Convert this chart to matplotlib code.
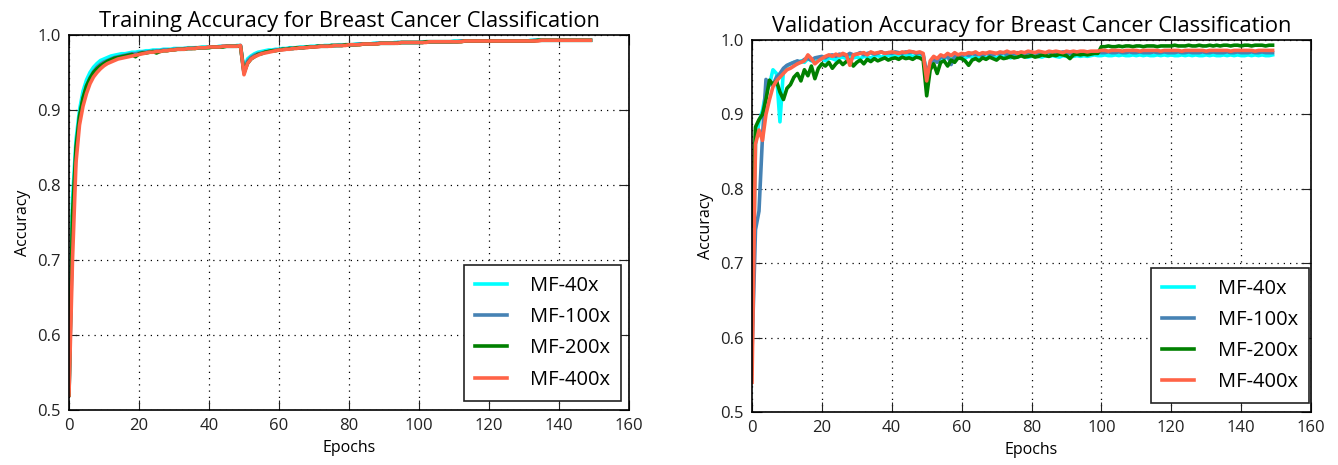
import matplotlib
matplotlib.use("Agg")
import matplotlib.pyplot as plt

epochs = list(range(150))
labels = ["MF-40x", "MF-100x", "MF-200x", "MF-400x"]
colors = ["#00FFFF", "#4682B4", "#008000", "#FF6347"]

x_ticks = [0, 20, 40, 60, 80, 100, 120, 140, 160]
y_ticks = [0.5, 0.6, 0.7, 0.8, 0.9, 1.0]

train_40x = [
    0.53, 0.78, 0.86, 0.900, 0.925, 0.940, 0.950, 0.957, 0.962, 0.966,
    0.968, 0.970, 0.972, 0.973, 0.974, 0.975, 0.975, 0.976, 0.977, 0.977,
    0.978, 0.978, 0.979, 0.979, 0.980, 0.980, 0.980, 0.981, 0.981, 0.981,
    0.982, 0.982, 0.982, 0.982, 0.983, 0.983, 0.983, 0.983, 0.984, 0.984,
    0.984, 0.984, 0.984, 0.985, 0.985, 0.985, 0.985, 0.985, 0.986, 0.986,
    0.952, 0.968, 0.972, 0.975, 0.977, 0.978, 0.979, 0.980, 0.980, 0.981,
    0.981, 0.982, 0.982, 0.983, 0.983, 0.983, 0.984, 0.984, 0.984, 0.985,
    0.985, 0.985, 0.985, 0.986, 0.986, 0.986, 0.986, 0.987, 0.987, 0.987,
    0.987, 0.987, 0.988, 0.988, 0.988, 0.988, 0.988, 0.989, 0.989, 0.989,
    0.989, 0.989, 0.989, 0.990, 0.990, 0.990, 0.990, 0.990, 0.990, 0.990,
    0.990, 0.991, 0.991, 0.991, 0.991, 0.991, 0.991, 0.991, 0.991, 0.991,
    0.992, 0.992, 0.992, 0.992, 0.992, 0.992, 0.992, 0.992, 0.992, 0.992,
    0.992, 0.992, 0.992, 0.992, 0.992, 0.992, 0.992, 0.992, 0.992, 0.992,
    0.992, 0.992, 0.993, 0.993, 0.993, 0.993, 0.993, 0.993, 0.993, 0.993,
    0.993, 0.993, 0.993, 0.993, 0.993, 0.993, 0.993, 0.993, 0.993, 0.993,
]
train_100x = [
    0.52, 0.74, 0.845, 0.890, 0.915, 0.932, 0.943, 0.951, 0.957, 0.961,
    0.964, 0.966, 0.968, 0.970, 0.971, 0.972, 0.973, 0.974, 0.975, 0.975,
    0.976, 0.977, 0.977, 0.978, 0.978, 0.979, 0.979, 0.980, 0.980, 0.980,
    0.981, 0.981, 0.981, 0.982, 0.982, 0.982, 0.983, 0.983, 0.983, 0.983,
    0.984, 0.984, 0.984, 0.984, 0.985, 0.985, 0.985, 0.985, 0.985, 0.986,
    0.949, 0.965, 0.970, 0.973, 0.975, 0.976, 0.977, 0.978, 0.979, 0.980,
    0.980, 0.981, 0.981, 0.982, 0.982, 0.983, 0.983, 0.983, 0.984, 0.984,
    0.984, 0.985, 0.985, 0.985, 0.985, 0.986, 0.986, 0.986, 0.986, 0.987,
    0.987, 0.987, 0.987, 0.988, 0.988, 0.988, 0.988, 0.988, 0.989, 0.989,
    0.989, 0.989, 0.989, 0.989, 0.990, 0.990, 0.990, 0.990, 0.990, 0.990,
    0.990, 0.990, 0.991, 0.991, 0.991, 0.991, 0.991, 0.991, 0.991, 0.991,
    0.991, 0.991, 0.992, 0.992, 0.992, 0.992, 0.992, 0.992, 0.992, 0.992,
    0.992, 0.992, 0.992, 0.992, 0.992, 0.992, 0.992, 0.992, 0.992, 0.992,
    0.992, 0.992, 0.992, 0.993, 0.993, 0.993, 0.993, 0.993, 0.993, 0.993,
    0.993, 0.993, 0.993, 0.993, 0.993, 0.993, 0.993, 0.993, 0.993, 0.993,
]
train_200x = [
    0.52, 0.76, 0.850, 0.892, 0.916, 0.932, 0.942, 0.950, 0.955, 0.959,
    0.962, 0.965, 0.967, 0.969, 0.970, 0.971, 0.972, 0.973, 0.974, 0.971,
    0.975, 0.976, 0.976, 0.977, 0.978, 0.976, 0.978, 0.979, 0.979, 0.980,
    0.980, 0.981, 0.981, 0.981, 0.982, 0.982, 0.982, 0.983, 0.983, 0.983,
    0.983, 0.984, 0.984, 0.984, 0.984, 0.985, 0.985, 0.985, 0.985, 0.985,
    0.950, 0.962, 0.968, 0.971, 0.974, 0.975, 0.977, 0.978, 0.979, 0.979,
    0.980, 0.981, 0.981, 0.982, 0.982, 0.983, 0.983, 0.983, 0.984, 0.984,
    0.984, 0.985, 0.985, 0.985, 0.985, 0.986, 0.986, 0.986, 0.986, 0.987,
    0.987, 0.987, 0.987, 0.987, 0.988, 0.988, 0.988, 0.988, 0.988, 0.989,
    0.989, 0.989, 0.989, 0.989, 0.989, 0.990, 0.990, 0.990, 0.990, 0.990,
    0.990, 0.990, 0.991, 0.991, 0.991, 0.991, 0.991, 0.991, 0.991, 0.991,
    0.991, 0.991, 0.991, 0.992, 0.992, 0.992, 0.992, 0.992, 0.992, 0.992,
    0.992, 0.992, 0.992, 0.992, 0.992, 0.992, 0.992, 0.992, 0.992, 0.992,
    0.992, 0.992, 0.992, 0.992, 0.993, 0.993, 0.993, 0.993, 0.993, 0.993,
    0.993, 0.993, 0.993, 0.993, 0.993, 0.993, 0.993, 0.993, 0.993, 0.993,
]
train_400x = [
    0.52, 0.70, 0.830, 0.880, 0.905, 0.922, 0.935, 0.944, 0.950, 0.955,
    0.959, 0.962, 0.964, 0.966, 0.968, 0.969, 0.970, 0.971, 0.972, 0.973,
    0.974, 0.975, 0.976, 0.977, 0.977, 0.978, 0.978, 0.979, 0.979, 0.980,
    0.980, 0.981, 0.981, 0.981, 0.982, 0.982, 0.982, 0.983, 0.983, 0.983,
    0.984, 0.984, 0.984, 0.984, 0.985, 0.985, 0.985, 0.985, 0.985, 0.986,
    0.947, 0.962, 0.968, 0.971, 0.973, 0.975, 0.976, 0.977, 0.978, 0.979,
    0.980, 0.980, 0.981, 0.981, 0.982, 0.982, 0.983, 0.983, 0.983, 0.984,
    0.984, 0.984, 0.985, 0.985, 0.985, 0.985, 0.986, 0.986, 0.986, 0.986,
    0.987, 0.987, 0.987, 0.987, 0.988, 0.988, 0.988, 0.988, 0.988, 0.989,
    0.989, 0.989, 0.989, 0.989, 0.989, 0.990, 0.990, 0.990, 0.990, 0.990,
    0.990, 0.990, 0.990, 0.991, 0.991, 0.991, 0.991, 0.991, 0.991, 0.991,
    0.991, 0.991, 0.991, 0.992, 0.992, 0.992, 0.992, 0.992, 0.992, 0.992,
    0.992, 0.992, 0.992, 0.992, 0.992, 0.992, 0.992, 0.992, 0.992, 0.992,
    0.992, 0.992, 0.992, 0.992, 0.992, 0.993, 0.993, 0.993, 0.993, 0.993,
    0.993, 0.993, 0.993, 0.993, 0.993, 0.993, 0.993, 0.993, 0.993, 0.993,
]

val_40x = [
    0.60, 0.86, 0.890, 0.905, 0.930, 0.940, 0.960, 0.955, 0.890, 0.960,
    0.965, 0.968, 0.970, 0.968, 0.972, 0.970, 0.975, 0.972, 0.970, 0.974,
    0.975, 0.972, 0.976, 0.975, 0.973, 0.976, 0.977, 0.975, 0.978, 0.976,
    0.977, 0.975, 0.978, 0.977, 0.976, 0.978, 0.979, 0.977, 0.978, 0.979,
    0.978, 0.980, 0.979, 0.977, 0.979, 0.980, 0.978, 0.979, 0.980, 0.979,
    0.955, 0.965, 0.975, 0.972, 0.976, 0.975, 0.977, 0.976, 0.974, 0.977,
    0.975, 0.976, 0.978, 0.977, 0.975, 0.978, 0.977, 0.976, 0.978, 0.977,
    0.976, 0.978, 0.977, 0.978, 0.976, 0.978, 0.977, 0.979, 0.978, 0.977,
    0.978, 0.979, 0.978, 0.977, 0.979, 0.978, 0.979, 0.978, 0.977, 0.979,
    0.978, 0.979, 0.978, 0.979, 0.978, 0.979, 0.978, 0.979, 0.980, 0.979,
    0.979, 0.980, 0.979, 0.979, 0.980, 0.979, 0.980, 0.979, 0.979, 0.980,
    0.979, 0.980, 0.979, 0.980, 0.979, 0.979, 0.980, 0.979, 0.980, 0.979,
    0.980, 0.979, 0.979, 0.980, 0.979, 0.980, 0.979, 0.980, 0.979, 0.979,
    0.980, 0.979, 0.980, 0.979, 0.979, 0.980, 0.979, 0.980, 0.979, 0.980,
    0.979, 0.979, 0.980, 0.979, 0.980, 0.979, 0.980, 0.979, 0.979, 0.980,
]
val_100x = [
    0.58, 0.745, 0.770, 0.870, 0.947, 0.940, 0.940, 0.950, 0.955, 0.962,
    0.966, 0.968, 0.970, 0.972, 0.970, 0.974, 0.975, 0.973, 0.976, 0.977,
    0.978, 0.976, 0.979, 0.980, 0.978, 0.981, 0.980, 0.979, 0.982, 0.980,
    0.981, 0.983, 0.980, 0.982, 0.983, 0.981, 0.982, 0.984, 0.982, 0.983,
    0.982, 0.984, 0.983, 0.982, 0.984, 0.983, 0.984, 0.982, 0.983, 0.980,
    0.955, 0.968, 0.974, 0.970, 0.978, 0.976, 0.979, 0.967, 0.978, 0.980,
    0.978, 0.981, 0.979, 0.982, 0.980, 0.981, 0.979, 0.982, 0.981, 0.980,
    0.982, 0.981, 0.983, 0.980, 0.982, 0.981, 0.983, 0.982, 0.981, 0.983,
    0.982, 0.983, 0.981, 0.983, 0.982, 0.984, 0.982, 0.983, 0.982, 0.984,
    0.983, 0.982, 0.984, 0.983, 0.982, 0.984, 0.983, 0.984, 0.983, 0.984,
    0.983, 0.983, 0.984, 0.983, 0.983, 0.984, 0.983, 0.983, 0.984, 0.983,
    0.983, 0.984, 0.983, 0.983, 0.983, 0.984, 0.983, 0.983, 0.984, 0.983,
    0.983, 0.983, 0.984, 0.983, 0.983, 0.984, 0.983, 0.983, 0.983, 0.984,
    0.983, 0.983, 0.984, 0.983, 0.983, 0.983, 0.984, 0.983, 0.983, 0.984,
    0.983, 0.983, 0.983, 0.984, 0.983, 0.983, 0.984, 0.983, 0.983, 0.983,
]
val_200x = [
    0.75, 0.883, 0.893, 0.900, 0.920, 0.946, 0.940, 0.945, 0.930, 0.920,
    0.935, 0.940, 0.950, 0.955, 0.945, 0.960, 0.952, 0.965, 0.948, 0.962,
    0.968, 0.965, 0.970, 0.962, 0.968, 0.972, 0.967, 0.971, 0.973, 0.965,
    0.970, 0.973, 0.968, 0.974, 0.971, 0.975, 0.972, 0.974, 0.976, 0.973,
    0.975, 0.976, 0.974, 0.977, 0.975, 0.976, 0.974, 0.977, 0.976, 0.973,
    0.925, 0.960, 0.968, 0.955, 0.970, 0.972, 0.965, 0.973, 0.970, 0.976,
    0.975, 0.972, 0.966, 0.973, 0.975, 0.972, 0.976, 0.974, 0.977, 0.975,
    0.973, 0.977, 0.975, 0.976, 0.978, 0.976, 0.977, 0.979, 0.977, 0.978,
    0.979, 0.977, 0.978, 0.980, 0.979, 0.978, 0.980, 0.979, 0.981, 0.980,
    0.979, 0.975, 0.980, 0.981, 0.980, 0.981, 0.980, 0.981, 0.982, 0.982,
    0.991, 0.991, 0.992, 0.991, 0.991, 0.992, 0.991, 0.992, 0.992, 0.991,
    0.992, 0.992, 0.991, 0.992, 0.992, 0.992, 0.991, 0.992, 0.992, 0.992,
    0.992, 0.993, 0.992, 0.992, 0.992, 0.993, 0.992, 0.992, 0.993, 0.992,
    0.992, 0.993, 0.992, 0.993, 0.992, 0.993, 0.993, 0.992, 0.993, 0.993,
    0.992, 0.993, 0.993, 0.992, 0.993, 0.993, 0.993, 0.992, 0.993, 0.993,
]
val_400x = [
    0.54, 0.860, 0.879, 0.865, 0.900, 0.920, 0.937, 0.945, 0.950, 0.955,
    0.960, 0.962, 0.965, 0.968, 0.970, 0.972, 0.980, 0.975, 0.968, 0.972,
    0.975, 0.978, 0.980, 0.978, 0.981, 0.979, 0.982, 0.980, 0.966, 0.980,
    0.981, 0.982, 0.983, 0.980, 0.984, 0.982, 0.983, 0.984, 0.982, 0.983,
    0.984, 0.983, 0.982, 0.984, 0.983, 0.985, 0.984, 0.983, 0.984, 0.982,
    0.945, 0.972, 0.978, 0.975, 0.980, 0.978, 0.982, 0.979, 0.983, 0.980,
    0.982, 0.981, 0.983, 0.982, 0.984, 0.981, 0.983, 0.982, 0.984, 0.983,
    0.982, 0.984, 0.983, 0.985, 0.983, 0.984, 0.982, 0.984, 0.983, 0.985,
    0.984, 0.983, 0.985, 0.984, 0.983, 0.985, 0.984, 0.985, 0.984, 0.983,
    0.985, 0.984, 0.985, 0.984, 0.985, 0.985, 0.984, 0.985, 0.985, 0.985,
    0.986, 0.986, 0.985, 0.986, 0.986, 0.986, 0.985, 0.986, 0.986, 0.986,
    0.986, 0.985, 0.986, 0.986, 0.986, 0.986, 0.986, 0.985, 0.986, 0.986,
    0.986, 0.986, 0.986, 0.985, 0.986, 0.986, 0.986, 0.986, 0.986, 0.986,
    0.985, 0.986, 0.986, 0.986, 0.986, 0.986, 0.986, 0.985, 0.986, 0.986,
    0.986, 0.986, 0.986, 0.986, 0.985, 0.986, 0.986, 0.986, 0.986, 0.986,
]

train_series = [train_40x, train_100x, train_200x, train_400x]
val_series = [val_40x, val_100x, val_200x, val_400x]

plt.rcParams["font.family"] = ["Open Sans", "DejaVu Sans"]

fig = plt.figure(figsize=(13.38, 4.65), dpi=100)
fig.patch.set_facecolor("white")

ax1 = fig.add_axes([69 / 1338, 1 - 410 / 465, 560 / 1338, 375 / 465])
ax2 = fig.add_axes([752 / 1338, 1 - 412 / 465, 559 / 1338, 372 / 465])


def style(ax, title, series, anchor):
    for s, lab, c in zip(series, labels, colors):
        ax.plot(epochs, s, color=c, lw=2.6, label=lab)
    ax.set_xlim(0, 160)
    ax.set_ylim(0.5, 1.0)
    ax.set_xticks(x_ticks)
    ax.set_yticks(y_ticks)
    ax.set_yticklabels([f"{v:.1f}" for v in y_ticks])
    ax.grid(True, linestyle=(0, (1, 4)), color="k", lw=0.9)
    ax.tick_params(direction="in", top=True, right=True, length=7,
                   labelsize=12, pad=6, colors="#222222")
    for sp in ax.spines.values():
        sp.set_linewidth(1.2)
    ax.set_title(title, fontsize=15.7, pad=6)
    ax.set_xlabel("Epochs", fontsize=11.5)
    ax.set_ylabel("Accuracy", fontsize=11.5)
    leg = ax.legend(loc="lower right", bbox_to_anchor=anchor, fontsize=14.5,
                    handlelength=1.6, handletextpad=1.15, labelspacing=0.55,
                    borderpad=0.55, fancybox=False, framealpha=1,
                    edgecolor="#222222", borderaxespad=0)
    leg.get_frame().set_linewidth(1.2)


style(ax1, "Training Accuracy for Breast Cancer Classification", train_series, (0.986, 0.025))
style(ax2, "Validation Accuracy for Breast Cancer Classification", val_series, (0.996, 0.024))

fig.savefig("out.png", dpi=100, facecolor="white")
